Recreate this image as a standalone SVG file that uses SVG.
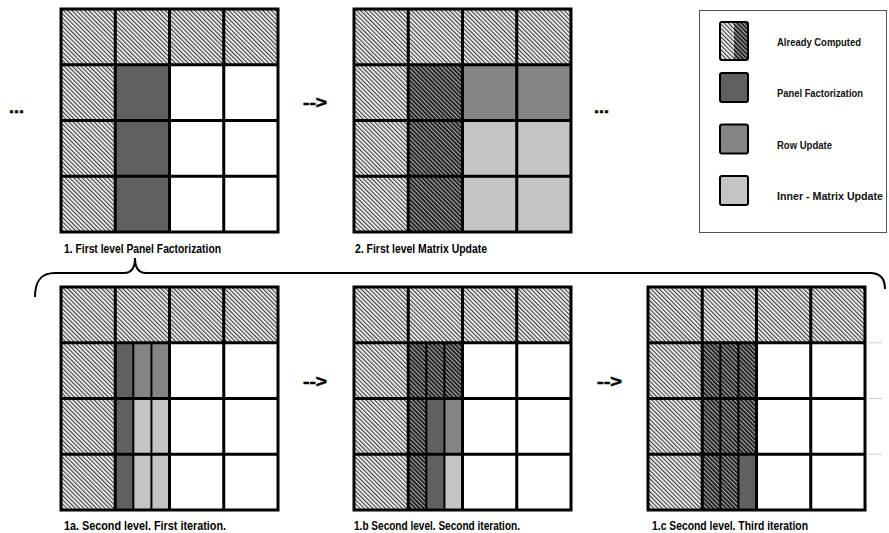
<svg xmlns="http://www.w3.org/2000/svg" width="889" height="533" viewBox="0 0 889 533">
<style>
.g{fill:none;stroke:#000;stroke-width:3}
.s{stroke:#000;stroke-width:2}
.pf{fill:#606060}
.ru{fill:#858585}
.im{fill:#c4c4c4}
.w{fill:#fff}
.hl{fill:url(#hl)}
.hd{fill:url(#hd)}
.lbl{font-family:"Liberation Sans Narrow","Liberation Sans",Arial,sans-serif;font-weight:bold;font-size:12px;fill:#000}
.leg{font-family:"Liberation Sans Narrow","Liberation Sans",Arial,sans-serif;font-weight:bold;font-size:11px;fill:#111}
.mk{font-family:"Liberation Sans",Arial,sans-serif;font-weight:bold;font-size:17px;fill:#000;stroke:#000;stroke-width:0.6}
</style>
<defs>
<pattern id="hl" width="3" height="3" patternUnits="userSpaceOnUse" patternTransform="rotate(-45)">
<rect width="3" height="3" fill="#fff"/><rect width="1.3" height="3" fill="#444"/>
</pattern>
<pattern id="hd" width="3" height="3" patternUnits="userSpaceOnUse" patternTransform="rotate(-45)">
<rect width="3" height="3" fill="#a8a8a8"/><rect width="1.7" height="3" fill="#111"/>
</pattern>
<g id="grid">
<rect class="g" x="0" y="0" width="217" height="223"/>
<path class="g" d="M54.25,0V223M108.5,0V223M162.75,0V223M0,55.75H217M0,111.5H217M0,167.25H217"/>
</g>
<path id="sub" class="s" d="M72.33,55.75V223M90.42,55.75V223"/>
<g id="base">
<rect class="hl" x="0" y="0" width="217" height="55.75"/>
<rect class="hl" x="0" y="55.75" width="54.25" height="167.25"/>
<rect class="w" x="108.5" y="55.75" width="108.5" height="167.25"/>
</g>
</defs>

<g id="matrix1" transform="translate(61,9)">
<use href="#base"/>
<rect class="pf" x="54.25" y="55.75" width="54.25" height="167.25"/>
<use href="#grid"/>
</g>

<g id="matrix2" transform="translate(354,9)">
<use href="#base"/>
<rect class="hd" x="54.25" y="55.75" width="54.25" height="167.25"/>
<rect class="ru" x="108.5" y="55.75" width="108.5" height="55.75"/>
<rect class="im" x="108.5" y="111.5" width="108.5" height="111.5"/>
<use href="#grid"/>
</g>

<g id="matrix1a" transform="translate(61,287)">
<use href="#base"/>
<rect class="pf" x="54.25" y="55.75" width="18.08" height="167.25"/>
<rect class="ru" x="72.33" y="55.75" width="36.17" height="55.75"/>
<rect class="im" x="72.33" y="111.5" width="36.17" height="111.5"/>
<use href="#sub"/>
<use href="#grid"/>
</g>

<g id="matrix1b" transform="translate(354,287)">
<use href="#base"/>
<rect class="hd" x="54.25" y="55.75" width="54.25" height="55.75"/>
<rect class="hd" x="54.25" y="111.5" width="18.08" height="111.5"/>
<rect class="pf" x="72.33" y="111.5" width="18.09" height="111.5"/>
<rect class="ru" x="90.42" y="111.5" width="18.08" height="55.75"/>
<rect class="im" x="90.42" y="167.25" width="18.08" height="55.75"/>
<use href="#sub"/>
<use href="#grid"/>
</g>

<g id="matrix1c" transform="translate(648,287)">
<use href="#base"/>
<rect class="hd" x="54.25" y="55.75" width="54.25" height="111.5"/>
<rect class="hd" x="54.25" y="167.25" width="36.17" height="55.75"/>
<rect class="pf" x="90.42" y="167.25" width="18.08" height="55.75"/>
<use href="#sub"/>
<use href="#grid"/>
<path d="M218.5,55.75H234M218.5,111.5H234M218.5,167.25H234" stroke="#d0d0d0" stroke-width="1" fill="none"/>
</g>

<g id="legend">
<rect x="699.5" y="10.5" width="187" height="222" fill="#fff" stroke="#555" stroke-width="1"/>
<g id="leg-computed">
<rect class="hl" x="720" y="22" width="14" height="38"/>
<rect class="hd" x="734" y="22" width="14" height="38"/>
<rect x="720" y="22" width="28" height="38" rx="2" fill="none" stroke="#000" stroke-width="2"/>
<text class="leg" x="777" y="46" textLength="84" lengthAdjust="spacingAndGlyphs">Already Computed</text>
</g>
<g id="leg-panel">
<rect class="pf" x="720" y="73" width="28" height="29" rx="2" stroke="#000" stroke-width="2"/>
<text class="leg" x="777" y="97" textLength="86" lengthAdjust="spacingAndGlyphs">Panel Factorization</text>
</g>
<g id="leg-row">
<rect class="ru" x="720" y="124.5" width="28" height="29" rx="2" stroke="#000" stroke-width="2"/>
<text class="leg" x="777" y="149" textLength="55" lengthAdjust="spacingAndGlyphs">Row Update</text>
</g>
<g id="leg-inner">
<rect class="im" x="720" y="176" width="28" height="29" rx="2" stroke="#000" stroke-width="2"/>
<text class="leg" x="777" y="200" textLength="106" lengthAdjust="spacingAndGlyphs">Inner - Matrix Update</text>
</g>
</g>

<g id="connectors">
<path d="M35,297 C35,282 40,273 55,273 L124,273 C131,273 135,268 135,258 C135,268 139,273 146,273 L870,273 C880,273 885,279 885,289" fill="none" stroke="#000" stroke-width="2"/>
<text class="mk" x="9" y="113" textLength="15" lengthAdjust="spacingAndGlyphs">...</text>
<text class="mk" x="594" y="113" textLength="15" lengthAdjust="spacingAndGlyphs">...</text>
<text class="mk" x="303" y="108" textLength="24" lengthAdjust="spacingAndGlyphs">--&gt;</text>
<text class="mk" x="303" y="387" textLength="24" lengthAdjust="spacingAndGlyphs">--&gt;</text>
<text class="mk" x="597" y="387" textLength="25" lengthAdjust="spacingAndGlyphs">--&gt;</text>
</g>

<g id="labels">
<text class="lbl" x="64" y="253" textLength="157" lengthAdjust="spacingAndGlyphs">1. First level Panel Factorization</text>
<text class="lbl" x="355" y="253" textLength="132" lengthAdjust="spacingAndGlyphs">2. First level Matrix Update</text>
<text class="lbl" x="64" y="530" textLength="162" lengthAdjust="spacingAndGlyphs">1a. Second level. First iteration.</text>
<text class="lbl" x="354" y="530" textLength="166" lengthAdjust="spacingAndGlyphs">1.b Second level. Second iteration.</text>
<text class="lbl" x="652" y="530" textLength="156" lengthAdjust="spacingAndGlyphs">1.c Second level. Third iteration</text>
</g>
</svg>
